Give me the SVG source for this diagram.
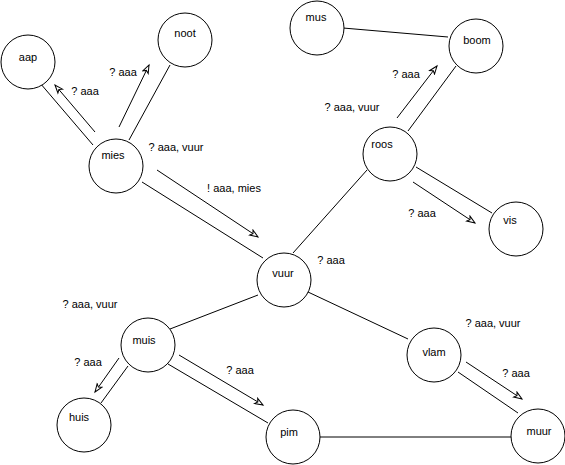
<svg xmlns="http://www.w3.org/2000/svg" width="565" height="465" viewBox="0 0 565 465">
<style>
.n circle{fill:#fff;stroke:#000;stroke-width:1}
text{font-family:"Liberation Sans",Arial,sans-serif;font-size:11px;fill:#000;text-anchor:middle}
.e line{stroke:#000;stroke-width:1;fill:none}
.e line.a{marker-end:url(#ah)}
</style>
<defs>
<marker id="ah" markerUnits="userSpaceOnUse" markerWidth="12" markerHeight="10" refX="9" refY="4" orient="auto" viewBox="0 0 12 8">
<path d="M1,1 L9,4 L1,7 L3,4 Z" fill="#fff" stroke="#000" stroke-width="1"/>
</marker>
</defs>
<rect width="565" height="465" fill="#fff"/>
<g id="connectors" class="e">
<line x1="40" y1="83" x2="93" y2="145"/>
<line class="a" x1="95" y1="132" x2="55" y2="85"/>
<line x1="170" y1="65" x2="129" y2="140"/>
<line class="a" x1="119" y1="127" x2="149" y2="65"/>
<line x1="142" y1="182" x2="263" y2="258"/>
<line class="a" x1="157" y1="170" x2="258" y2="237"/>
<line x1="367" y1="170" x2="293" y2="253"/>
<line x1="408" y1="131" x2="456" y2="66"/>
<line class="a" x1="397" y1="118" x2="437" y2="66"/>
<line x1="343" y1="28" x2="448" y2="37"/>
<line x1="416" y1="167" x2="492" y2="213"/>
<line class="a" x1="413" y1="182" x2="475" y2="223"/>
<line x1="258" y1="295" x2="170" y2="329"/>
<line x1="128" y1="366" x2="101" y2="403"/>
<line class="a" x1="119" y1="358" x2="95" y2="392"/>
<line x1="168" y1="364" x2="268" y2="423"/>
<line class="a" x1="179" y1="355" x2="263" y2="405"/>
<line x1="308" y1="292" x2="408" y2="339"/>
<line x1="458" y1="372" x2="518" y2="413"/>
<line class="a" x1="466" y1="362" x2="522" y2="399"/>
<line x1="319" y1="437" x2="512" y2="437"/>
</g>
<g id="edge-labels">
<text x="85" y="95">? aaa</text>
<text x="123" y="76">? aaa</text>
<text x="176" y="151">? aaa, vuur</text>
<text x="234" y="192">! aaa, mies</text>
<text x="352" y="111">? aaa, vuur</text>
<text x="406" y="78">? aaa</text>
<text x="422" y="217">? aaa</text>
<text x="331" y="264">? aaa</text>
<text x="90" y="308">? aaa, vuur</text>
<text x="88" y="366">? aaa</text>
<text x="240" y="374">? aaa</text>
<text x="493" y="327">? aaa, vuur</text>
<text x="516" y="377">? aaa</text>
</g>
<g id="aap" class="n"><circle cx="28" cy="62" r="27"/><text x="28" y="61">aap</text></g>
<g id="noot" class="n"><circle cx="185" cy="40" r="27"/><text x="185" y="37">noot</text></g>
<g id="mies" class="n"><circle cx="116" cy="166" r="27"/><text x="113" y="159">mies</text></g>
<g id="mus" class="n"><circle cx="317" cy="28" r="27"/><text x="316" y="21">mus</text></g>
<g id="boom" class="n"><circle cx="476" cy="46" r="27"/><text x="477" y="44">boom</text></g>
<g id="roos" class="n"><circle cx="390" cy="154" r="27"/><text x="382" y="148">roos</text></g>
<g id="vis" class="n"><circle cx="516" cy="229" r="27"/><text x="510" y="224">vis</text></g>
<g id="vuur" class="n"><circle cx="284" cy="280" r="27"/><text x="283" y="277">vuur</text></g>
<g id="muis" class="n"><circle cx="148" cy="345" r="27"/><text x="144" y="344">muis</text></g>
<g id="huis" class="n"><circle cx="84" cy="425" r="27"/><text x="79" y="421">huis</text></g>
<g id="pim" class="n"><circle cx="293" cy="437" r="27"/><text x="289" y="436">pim</text></g>
<g id="vlam" class="n"><circle cx="434" cy="355" r="27"/><text x="434" y="356">vlam</text></g>
<g id="muur" class="n"><circle cx="538" cy="436" r="27"/><text x="539" y="435">muur</text></g>
</svg>
